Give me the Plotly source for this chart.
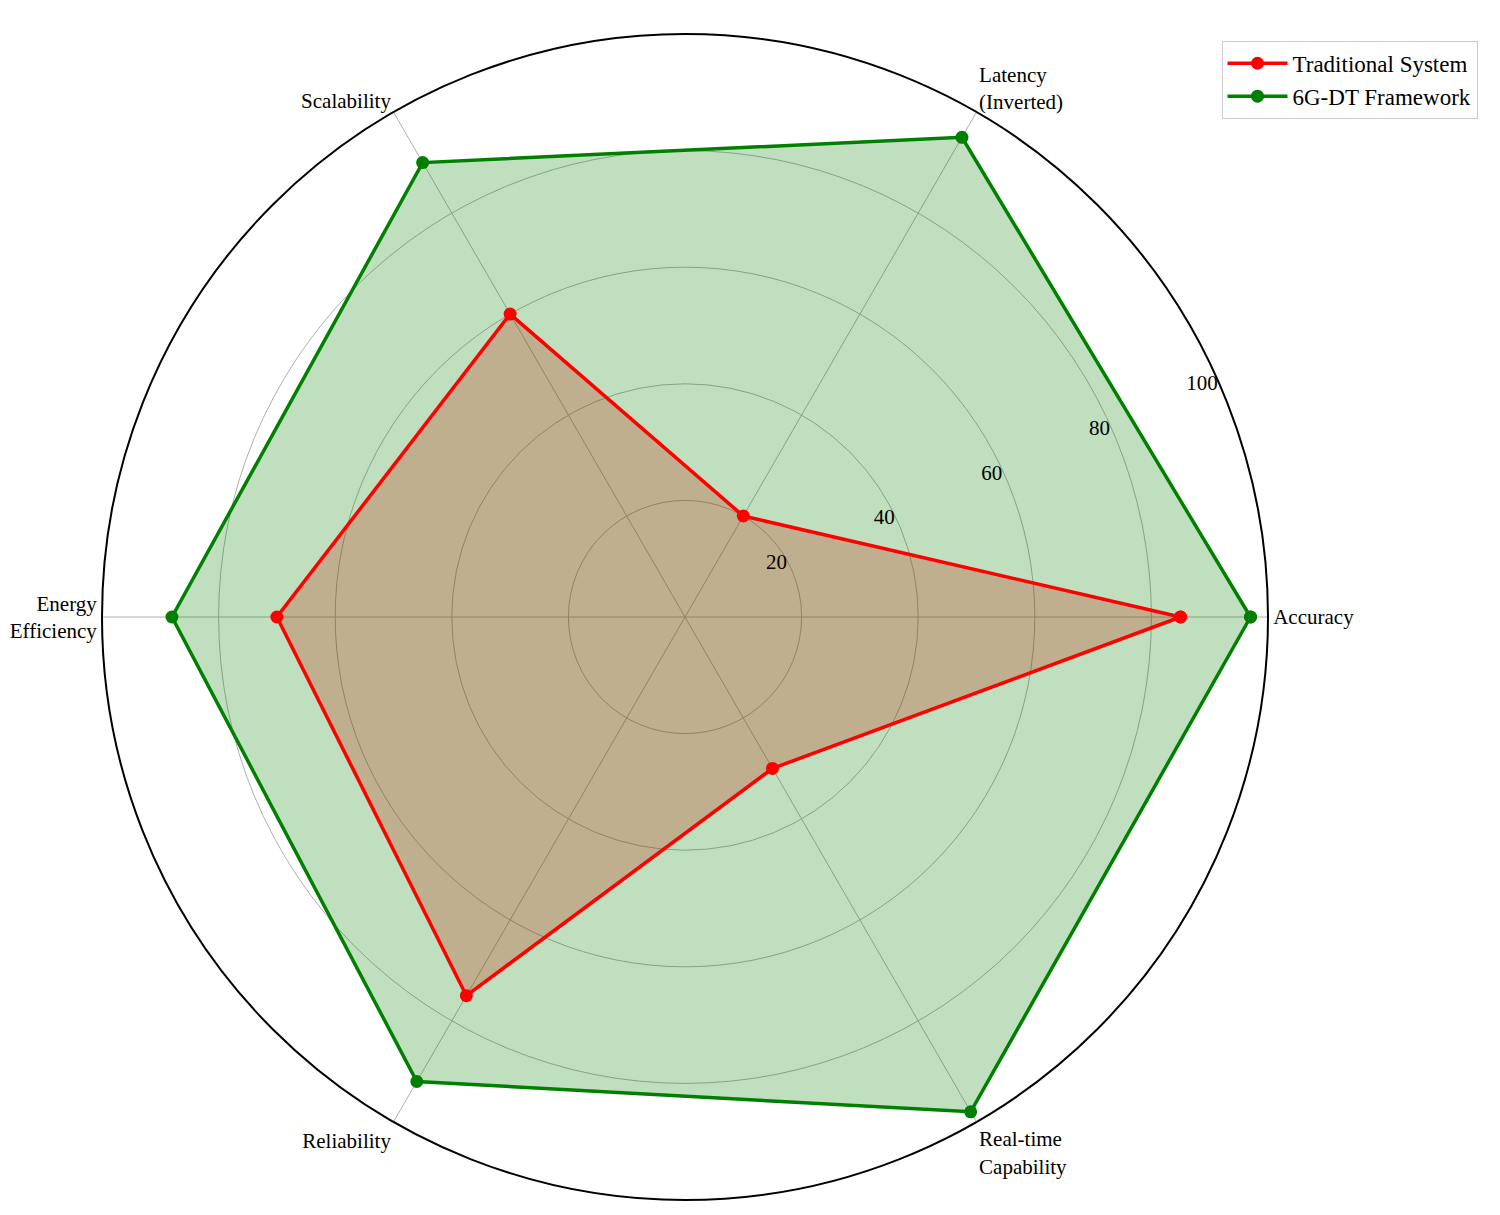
import plotly.graph_objects as go

# Metrics around the radar (counterclockwise from the right)
categories = ['Accuracy', 'Latency<br>(Inverted)', 'Scalability',
              'Energy<br>Efficiency', 'Reliability', 'Real-time<br>Capability']
traditional = [85, 20, 60, 70, 75, 30]
framework_6g = [97, 95, 90, 88, 92, 98]
radial_ticks = [20, 40, 60, 80, 100]

series = [
    ('Traditional System', traditional, 'red', 'rgba(255,0,0,0.25)'),
    ('6G-DT Framework', framework_6g, 'green', 'rgba(0,128,0,0.25)'),
]

# close the loops
theta = categories + categories[:1]

fig = go.Figure()

# fills first so the outlines sit on top of both
for name, vals, col, fcol in series:
    fig.add_trace(go.Scatterpolar(
        r=vals + vals[:1], theta=theta, mode='none',
        fill='toself', fillcolor=fcol, showlegend=False, hoverinfo='skip'))

for name, vals, col, fcol in series:
    fig.add_trace(go.Scatterpolar(
        r=vals + vals[:1], theta=theta,
        mode='lines+markers', name=name,
        line=dict(color=col, width=3.5), marker=dict(size=13, color=col)))

fig.update_layout(
    width=1500, height=1215,
    paper_bgcolor='white',
    font=dict(family='Liberation Serif, Times New Roman, serif', size=22, color='black'),
    margin=dict(l=0, r=0, t=0, b=0),
    polar=dict(
        domain=dict(x=[94 / 1500, 1260 / 1500], y=[23 / 1215, 1189 / 1215]),
        bgcolor='white',
        angularaxis=dict(
            rotation=0, direction='counterclockwise',
            showline=True, linecolor='black', linewidth=2,
            gridcolor='#b0b0b0', gridwidth=1.2,
            ticks='', tickfont=dict(size=21),
        ),
        radialaxis=dict(
            range=[0, 100], tickvals=radial_ticks,
            angle=22.5, tickangle=22.5, side='counterclockwise',
            showline=False, ticks='',
            gridcolor='#b0b0b0', gridwidth=1.2,
            tickfont=dict(size=21),
        ),
    ),
    legend=dict(
        x=0.809, y=0.973, xanchor='left', yanchor='top',
        bordercolor='#cccccc', borderwidth=1, bgcolor='white',
        font=dict(size=23), itemwidth=60,
    ),
)

fig.write_html("out.html")
